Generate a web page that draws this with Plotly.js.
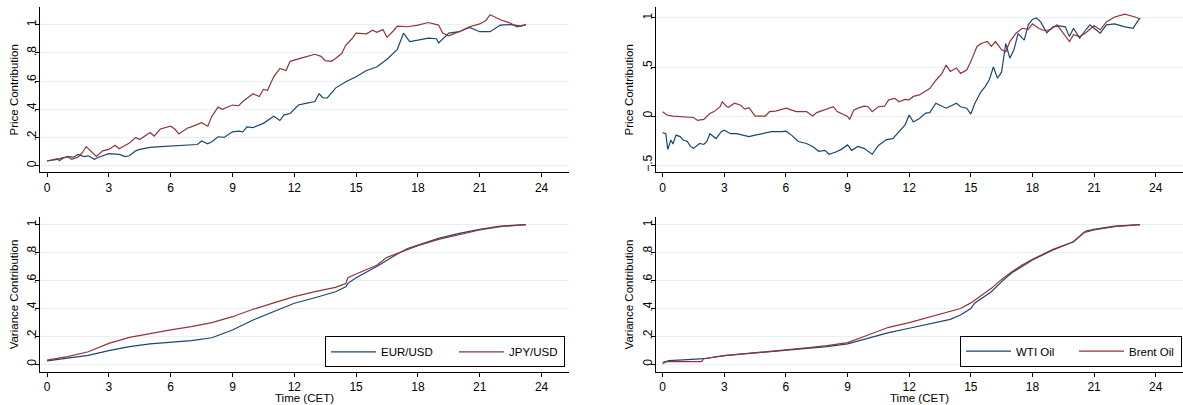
<!DOCTYPE html>
<html>
<head>
<meta charset="utf-8">
<script src="https://cdn.plot.ly/plotly-3.0.1.min.js"></script>
<style>
  html, body { margin: 0; padding: 0; background: #ffffff; }
  #chart { width: 1183px; height: 405px; }
</style>
</head>
<body>
<div id="chart"></div>
<script>
// ---- Price contribution, FX (hours CET) ----
const eurPriceHours = [0,0.5,1,1.3,1.5,1.8,2,2.3,2.5,3,3.5,3.8,4,4.3,4.5,5,5.5,6,6.5,7,7.3,7.5,7.8,8,8.3,8.6,9,9.3,9.5,9.7,10,10.5,11,11.3,11.5,11.8,12,12.2,12.5,13,13.2,13.4,13.6,14,14.5,15,15.5,15.8,16,16.5,17,17.3,17.6,18,18.5,18.9,19,19.5,20,20.5,21,21.5,22,22.5,23,23.24];
const eurPrice = [0.033,0.045,0.064,0.06,0.08,0.065,0.07,0.045,0.06,0.085,0.08,0.065,0.07,0.105,0.115,0.13,0.135,0.14,0.14,0.147,0.15,0.175,0.155,0.17,0.205,0.2,0.24,0.245,0.24,0.275,0.27,0.3,0.35,0.32,0.36,0.37,0.40,0.43,0.44,0.455,0.51,0.48,0.48,0.55,0.595,0.63,0.675,0.69,0.70,0.755,0.825,0.94,0.88,0.89,0.905,0.90,0.87,0.94,0.95,0.98,0.95,0.95,0.997,1.0,0.99,1.0];

const jpyPriceHours = [0,0.3,0.5,0.6,0.8,1,1.2,1.5,1.7,1.9,2.2,2.4,2.7,3,3.3,3.5,4,4.3,4.5,5,5.2,5.5,6,6.2,6.4,6.8,7,7.5,7.8,8,8.3,8.5,9,9.3,9.5,10,10.3,10.5,10.7,11,11.3,11.6,11.8,12,12.5,13,13.3,13.5,13.8,14,14.3,14.5,14.8,15,15.5,15.8,16,16.3,16.5,16.8,17,17.5,18,18.5,19,19.2,19.5,20,20.5,21,21.3,21.5,22,22.5,22.8,23.24];
const jpyPrice = [0.033,0.045,0.05,0.035,0.055,0.063,0.045,0.06,0.09,0.135,0.09,0.065,0.105,0.115,0.145,0.12,0.16,0.2,0.185,0.235,0.21,0.26,0.28,0.26,0.225,0.265,0.275,0.305,0.28,0.35,0.415,0.40,0.43,0.425,0.455,0.51,0.49,0.54,0.535,0.63,0.69,0.675,0.74,0.75,0.77,0.79,0.775,0.745,0.74,0.76,0.795,0.855,0.9,0.94,0.935,0.96,0.945,0.965,0.91,0.955,0.99,0.985,0.997,1.015,0.997,0.94,0.92,0.95,0.985,1.005,1.03,1.07,1.035,1.01,0.985,1.0];

// ---- Price contribution, oil ----
const wtiPriceHours = [0,0.15,0.25,0.4,0.5,0.65,0.85,1,1.2,1.35,1.5,1.65,1.8,2,2.15,2.3,2.45,2.6,2.85,3,3.3,3.6,3.9,4.2,4.5,4.9,5.3,5.8,6,6.3,6.6,7,7.3,7.6,7.9,8.1,8.4,8.7,9,9.2,9.5,9.8,10.2,10.5,10.7,10.9,11.2,11.5,11.8,12,12.2,12.5,12.8,13,13.3,13.5,13.8,14,14.3,14.5,14.8,15,15.2,15.5,15.7,15.9,16.1,16.3,16.5,16.7,16.9,17.1,17.3,17.6,17.8,18,18.2,18.4,18.7,19,19.3,19.6,19.8,20,20.3,20.6,20.8,21,21.3,21.6,22,22.5,22.9,23.1,23.24];
const wtiPrice = [-0.17,-0.18,-0.34,-0.245,-0.285,-0.195,-0.21,-0.245,-0.26,-0.31,-0.33,-0.305,-0.28,-0.29,-0.26,-0.18,-0.21,-0.23,-0.16,-0.145,-0.18,-0.18,-0.195,-0.21,-0.195,-0.18,-0.16,-0.16,-0.155,-0.2,-0.26,-0.28,-0.31,-0.36,-0.35,-0.39,-0.37,-0.34,-0.295,-0.35,-0.31,-0.33,-0.39,-0.3,-0.27,-0.24,-0.23,-0.16,-0.09,0.01,-0.06,-0.025,0.03,0.035,0.13,0.11,0.08,0.1,0.13,0.095,0.08,0.02,0.13,0.25,0.30,0.37,0.5,0.385,0.45,0.74,0.59,0.675,0.84,0.775,0.93,0.985,1.0,0.96,0.85,0.91,0.92,0.91,0.81,0.895,0.795,0.88,0.93,0.895,0.845,0.93,0.94,0.91,0.895,0.96,1.0];

const brentPriceHours = [0,0.2,0.5,1,1.5,1.7,2,2.3,2.5,2.8,2.9,3.1,3.2,3.5,3.8,4,4.2,4.5,5,5.2,5.5,6,6.5,7,7.3,7.5,8,8.3,8.5,8.8,9,9.1,9.3,9.5,9.8,10,10.2,10.5,10.8,11,11.3,11.5,11.8,12,12.2,12.5,12.8,13,13.3,13.6,13.8,14,14.3,14.5,14.8,15,15.3,15.5,15.8,16,16.2,16.5,16.7,16.9,17.2,17.5,17.8,18,18.3,18.6,18.9,19.2,19.5,19.8,20,20.3,20.6,21,21.3,21.6,22,22.5,23,23.24];
const brentPrice = [0.044,0.01,0.0,-0.005,-0.015,-0.045,-0.035,0.025,0.045,0.095,0.145,0.1,0.09,0.13,0.11,0.07,0.085,0.0,0.0,0.045,0.05,0.08,0.045,0.045,0.0,0.035,0.07,0.095,0.045,0.015,-0.005,-0.035,0.06,0.08,0.1,0.095,0.045,0.095,0.1,0.165,0.18,0.145,0.17,0.165,0.2,0.215,0.25,0.28,0.365,0.435,0.52,0.455,0.49,0.435,0.47,0.555,0.71,0.74,0.76,0.71,0.76,0.675,0.655,0.76,0.845,0.895,0.885,0.94,0.895,0.87,0.885,0.93,0.845,0.76,0.83,0.81,0.85,0.92,0.88,0.96,1.01,1.04,1.01,0.99];

// ---- Variance contribution, FX ----
const eurVarHours = [0,1,2,3,4,5,6,7,8,9,10,11,12,13,14,14.5,14.6,15,16,17,17.5,18,19,20,21,22,23.24];
const eurVar = [0.024,0.043,0.064,0.098,0.126,0.146,0.158,0.17,0.19,0.246,0.317,0.377,0.437,0.477,0.52,0.555,0.58,0.62,0.70,0.79,0.83,0.854,0.902,0.938,0.967,0.99,1.0];

const jpyVarHours = [0,1,2,3,4,5,6,7,8,9,10,11,12,13,14,14.5,14.6,15,16,16.5,17,17.5,18,19,20,21,22,23.24];
const jpyVar = [0.03,0.055,0.09,0.15,0.193,0.222,0.246,0.27,0.298,0.341,0.394,0.44,0.485,0.52,0.551,0.578,0.62,0.647,0.71,0.766,0.795,0.826,0.85,0.895,0.926,0.962,0.986,1.0];

// ---- Variance contribution, oil ----
const wtiVarHours = [0,0.3,1,2,3,4,5,6,7,8,9,10,11,12,13,14,14.5,15,15.2,16,16.5,17,18,19,20,20.5,20.6,21,22,23.24];
const wtiVar = [0.012,0.026,0.031,0.04,0.062,0.074,0.086,0.098,0.112,0.126,0.146,0.186,0.227,0.258,0.289,0.322,0.353,0.40,0.44,0.52,0.592,0.656,0.747,0.819,0.878,0.938,0.955,0.967,0.99,1.0];

const brentVarHours = [0,0.2,1.9,2,3,4,5,6,7,8,9,10,11,12,13,14,14.5,15,15.3,16,16.5,17,17.5,18,19,20,20.5,21,22,23.24];
const brentVar = [0.007,0.019,0.019,0.04,0.062,0.076,0.09,0.1,0.117,0.134,0.155,0.21,0.265,0.298,0.337,0.377,0.40,0.44,0.473,0.544,0.608,0.663,0.711,0.752,0.823,0.878,0.943,0.962,0.986,1.0];

// ---- Series names and axis labels ----
const fxNames = ['EUR/USD', 'JPY/USD'];
const oilNames = ['WTI Oil', 'Brent Oil'];
const hourTicks = [0, 3, 6, 9, 12, 15, 18, 21, 24];
const unitTicks = [0, 0.2, 0.4, 0.6, 0.8, 1];
const unitTickText = ['0', '.2', '.4', '.6', '.8', '1'];
const oilPriceTicks = [-0.5, 0, 0.5, 1];
const oilPriceTickText = ['\u2212.5', '0', '.5', '1'];
const timeTitle = 'Time (CET)';

const NAVY = '#1a476f';
const MAROON = '#90353b';
const FONT = 'Liberation Sans, Arial, sans-serif';

// legendwidth: room reserved after each legend swatch
function series(x, y, name, color, xa, ya, legend, showlegend, legendwidth) {
  const t = {
    type: 'scatter', mode: 'lines', x: x, y: y, name: name,
    xaxis: xa, yaxis: ya, legend: legend, showlegend: showlegend,
    line: { color: color, width: 1.2 }, hoverinfo: 'skip'
  };
  if (legendwidth) t.legendwidth = legendwidth;
  return t;
}

const traces = [
  series(eurPriceHours, eurPrice, fxNames[0], NAVY, 'x', 'y', 'legend', false),
  series(jpyPriceHours, jpyPrice, fxNames[1], MAROON, 'x', 'y', 'legend', false),
  series(wtiPriceHours, wtiPrice, oilNames[0], NAVY, 'x2', 'y2', 'legend2', false),
  series(brentPriceHours, brentPrice, oilNames[1], MAROON, 'x2', 'y2', 'legend2', false),
  series(eurVarHours, eurVar, fxNames[0], NAVY, 'x3', 'y3', 'legend', true, 68),
  series(jpyVarHours, jpyVar, fxNames[1], MAROON, 'x3', 'y3', 'legend', true, 50),
  series(wtiVarHours, wtiVar, oilNames[0], NAVY, 'x4', 'y4', 'legend2', true, 53),
  series(brentVarHours, brentVar, oilNames[1], MAROON, 'x4', 'y4', 'legend2', true, 47)
];

const W = 1183, H = 405;
const leftDom = [40 / W, 569 / W];
const rightDom = [655.7 / W, 1.0];
const topDom = [(H - 172.3) / H, (H - 7.3) / H];
const botDom = [(H - 371.7) / H, (H - 217.3) / H];
const hourRange = [-0.34, 25.33];

function xAxis(domain, anchor) {
  return {
    domain: domain, anchor: anchor, range: hourRange,
    tickmode: 'array', tickvals: hourTicks,
    showgrid: false, zeroline: false,
    showline: true, linecolor: '#000', linewidth: 1,
    ticks: 'outside', ticklen: 4, tickwidth: 1, tickcolor: '#000',
    tickfont: { family: FONT, size: 12, color: '#000' },
    fixedrange: true
  };
}

function yAxis(domain, anchor, range, vals, text, titleText) {
  return {
    domain: domain, anchor: anchor, range: range,
    tickmode: 'array', tickvals: vals, ticktext: text, tickangle: -90,
    ticklabelstandoff: -6,
    showgrid: true, gridcolor: '#e8f0f2', gridwidth: 1, zeroline: false,
    showline: true, linecolor: '#000', linewidth: 1,
    ticks: 'outside', ticklen: 4, tickwidth: 1, tickcolor: '#000',
    tickfont: { family: FONT, size: 12, color: '#000' },
    title: { text: titleText, font: { family: FONT, size: 11.5, color: '#000' }, standoff: 4 },
    fixedrange: true
  };
}

function legendBox(xLeft, yBottom) {
  return {
    orientation: 'h', x: xLeft, xanchor: 'left', y: yBottom, yanchor: 'bottom',
    bgcolor: '#ffffff', bordercolor: '#000', borderwidth: 1,
    font: { family: FONT, size: 11.5, color: '#000' },
    itemwidth: 45, tracegroupgap: 0
  };
}

// x-axis titles under the lower panels, centred on each panel
function xTitle(xref) {
  return {
    text: timeTitle, xref: xref, x: 0.5, xanchor: 'center',
    yref: 'paper', y: (H - 397.5) / H, yanchor: 'middle',
    showarrow: false, font: { family: FONT, size: 11.5, color: '#000' }
  };
}

const layout = {
  width: W, height: H,
  margin: { l: 0, r: 0, t: 0, b: 0 },
  paper_bgcolor: '#ffffff', plot_bgcolor: '#ffffff',
  font: { family: FONT, size: 12, color: '#000' },
  xaxis: xAxis(leftDom, 'y'),
  yaxis: yAxis(topDom, 'x', [-0.047, 1.123], unitTicks, unitTickText, 'Price Contribution'),
  xaxis2: xAxis(rightDom, 'y2'),
  yaxis2: yAxis(topDom, 'x2', [-0.574, 1.109], oilPriceTicks, oilPriceTickText, 'Price Contribution'),
  xaxis3: xAxis(leftDom, 'y3'),
  yaxis3: yAxis(botDom, 'x3', [-0.053, 1.053], unitTicks, unitTickText, 'Variance Contribution'),
  xaxis4: xAxis(rightDom, 'y4'),
  yaxis4: yAxis(botDom, 'x4', [-0.053, 1.053], unitTicks, unitTickText, 'Variance Contribution'),
  annotations: [xTitle('x3 domain'), xTitle('x4 domain')],
  legend: legendBox(325 / W, (H - 367.3) / H),
  legend2: legendBox(960 / W, (H - 366.7) / H),
  showlegend: true
};

Plotly.newPlot('chart', traces, layout, { staticPlot: true, displayModeBar: false });
</script>
</body>
</html>
